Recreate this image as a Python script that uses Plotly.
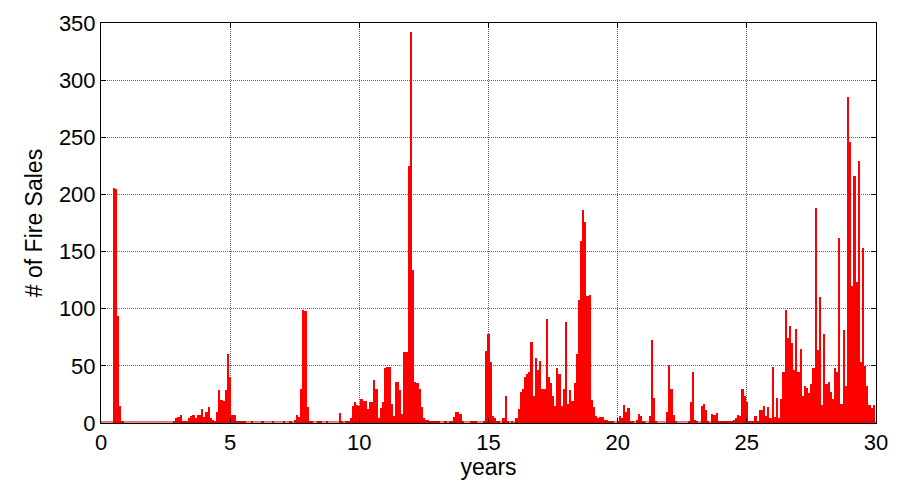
import plotly.graph_objects as go

# Monthly counts of fire sales, one list per 5-year block (60 months each)
sales_y00_y04 = [0, 0, 0, 0, 0, 0, 206, 205, 94, 15, 1, 0,
                 0, 0, 0, 0, 0, 0, 0, 0, 0, 0, 0, 0,
                 0, 0, 0, 0, 0, 0, 0, 0, 0, 0, 2, 4,
                 5, 7, 2, 1, 1, 4, 6, 7, 4, 7, 7, 12,
                 5, 10, 14, 4, 3, 1, 10, 29, 20, 19, 29, 60]
sales_y05_y09 = [40, 7, 7, 1, 2, 1, 1, 1, 0, 0, 1, 0,
                 0, 0, 0, 1, 0, 0, 0, 0, 2, 0, 0, 0,
                 0, 1, 0, 0, 1, 0, 3, 7, 5, 30, 99, 98,
                 14, 2, 1, 0, 0, 1, 1, 0, 0, 1, 0, 0,
                 0, 0, 0, 9, 2, 0, 1, 2, 4, 15, 18, 16]
sales_y10_y14 = [15, 21, 19, 19, 12, 18, 18, 38, 30, 4, 13, 18,
                 48, 49, 49, 17, 6, 36, 36, 29, 8, 62, 62, 225,
                 342, 134, 36, 35, 30, 14, 4, 3, 3, 2, 2, 1,
                 1, 1, 0, 0, 1, 0, 1, 2, 5, 10, 10, 8,
                 1, 0, 0, 0, 1, 2, 1, 0, 0, 0, 2, 63]
sales_y15_y19 = [78, 53, 6, 4, 2, 1, 0, 4, 24, 1, 0, 1,
                 0, 4, 12, 27, 30, 40, 43, 45, 71, 24, 57, 46,
                 54, 30, 30, 91, 40, 35, 24, 15, 48, 43, 15, 30,
                 88, 17, 29, 19, 35, 60, 108, 159, 186, 176, 111, 112,
                 20, 14, 6, 4, 5, 5, 3, 3, 2, 1, 1, 0]
sales_y20_y24 = [2, 6, 4, 16, 10, 13, 2, 1, 0, 3, 8, 6,
                 1, 0, 0, 6, 73, 22, 1, 0, 0, 0, 0, 10,
                 51, 30, 7, 1, 0, 0, 0, 0, 0, 1, 18, 45,
                 3, 1, 0, 15, 17, 11, 1, 0, 8, 7, 9, 1,
                 1, 1, 1, 2, 2, 2, 3, 4, 7, 6, 30, 24]
sales_y25_y29 = [18, 2, 2, 1, 6, 2, 11, 11, 15, 6, 14, 4,
                 49, 5, 22, 4, 21, 45, 99, 74, 85, 70, 46, 82,
                 45, 65, 24, 32, 31, 26, 34, 48, 188, 64, 110, 16,
                 78, 34, 36, 27, 21, 48, 45, 162, 17, 81, 32, 285,
                 246, 120, 216, 123, 229, 53, 153, 50, 32, 16, 13, 16]

x_ticks = [0, 5, 10, 15, 20, 25, 30]
y_ticks = [0, 50, 100, 150, 200, 250, 300, 350]

sales = (sales_y00_y04 + sales_y05_y09 + sales_y10_y14 +
         sales_y15_y19 + sales_y20_y24 + sales_y25_y29)
years = [m / 12 for m in range(len(sales))]

FONT = "Liberation Sans, Arial, Helvetica, sans-serif"

fig = go.Figure()
fig.add_trace(go.Bar(
    x=years, y=sales, width=1 / 12,
    marker=dict(color="#ff0000", line=dict(width=0)),
    hoverinfo="x+y",
))

# thin red baseline drawn by the zero-height bars
shapes = [dict(type="line", xref="x", yref="y", x0=0, x1=30, y0=0.9, y1=0.9,
               line=dict(color="#cc0000", width=1), layer="above")]

axis_common = dict(
    showline=True, linecolor="black", linewidth=1, mirror="ticks",
    ticks="inside", ticklen=5, tickcolor="black", tickwidth=1,
    showgrid=True, gridcolor="rgba(0,0,0,0.6)", griddash="1px,1px", gridwidth=1,
    zeroline=False, automargin=False,
    tickfont=dict(family=FONT, size=22, color="black"),
)

fig.update_layout(
    width=907, height=480,
    margin=dict(l=101, r=31, t=23, b=57),
    paper_bgcolor="white", plot_bgcolor="white",
    bargap=0, showlegend=False,
    font=dict(family=FONT, color="black"),
    shapes=shapes,
    xaxis=dict(range=[0, 30], tickvals=x_ticks, ticktext=[str(v) for v in x_ticks],
               title=dict(text="years", font=dict(family=FONT, size=23), standoff=5),
               **axis_common),
    yaxis=dict(range=[0, 350], tickvals=y_ticks, ticktext=[str(v) for v in y_ticks],
               title=dict(text="# of Fire Sales", font=dict(family=FONT, size=23), standoff=9),
               **axis_common),
)

fig.write_html("out.html")
